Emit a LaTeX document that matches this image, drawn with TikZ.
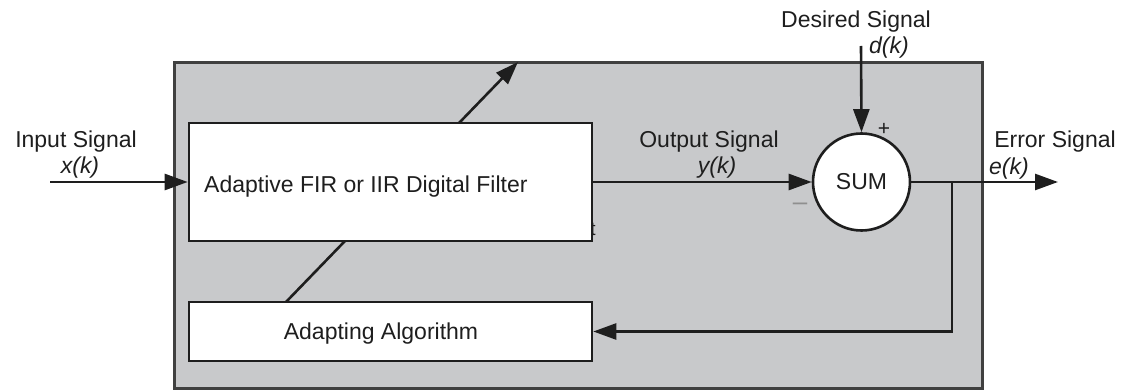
\documentclass[tikz,border=0pt]{standalone}
\usepackage{fontspec}
\setmainfont{Liberation Sans}
\usetikzlibrary{arrows.meta}
\definecolor{panel}{RGB}{200,201,203}
\definecolor{ink}{RGB}{30,30,30}
\tikzset{
  lbl/.style={font=\fontsize{23}{26}\selectfont, text=ink, inner sep=0pt, anchor=base},
  ilbl/.style={lbl, font=\fontsize{23}{26}\selectfont\itshape},
  blockbox/.style={draw=ink, line width=2.6pt, fill=white, inner sep=0pt},
  arr/.style={draw=ink, line width=2.6pt, -{Triangle[length=23pt,width=16pt]}},
  wire/.style={draw=ink, line width=2.6pt},
}
\begin{document}
\begin{tikzpicture}[x=1pt,y=-1pt]
\useasboundingbox (0,0) rectangle (1128,390);
% outer panel
\node[draw=ink!85, line width=3pt, fill=panel, minimum width=808pt, minimum height=325pt, inner sep=0pt] (outer) at (578,225.5) {};
% stray glyph partly hidden behind the filter box
\node[font=\fontsize{19}{19}\selectfont, text=ink, inner sep=0pt] (stray) at (593,229) {t};
% diagonal adaptation arrow (passes behind the filter box)
\coordinate (dlow) at (286,302);
\coordinate (dtip) at (518,62);
\draw[arr] (dlow) -- (dtip);
% blocks
\node[blockbox, minimum width=403pt, minimum height=118pt] (filt) at (390.5,182) {};
\node[lbl, anchor=base west] (filttext) at (204,193) {Adaptive FIR or IIR Digital Filter};
\node[blockbox, minimum width=403pt, minimum height=59pt] (adapt) at (390.5,331.5) {};
\node[lbl] (adapttext) at (381,339) {Adapting Algorithm};
\node[circle, draw=ink, line width=2.6pt, fill=white, minimum size=97pt, inner sep=0pt, font=\fontsize{23}{26}\selectfont, text=ink] (sum) at (861.5,182) {SUM};
% signs
\node[font=\fontsize{21}{21}\selectfont, text=ink, inner sep=0pt] (plus) at (884,129) {+};
\node[font=\fontsize{26}{26}\selectfont, text=ink!50, inner sep=0pt] (minus) at (800,207) {\char"2013};
% endpoints
\coordinate (inS) at (50,182);
\coordinate (dS) at (861,46);
\coordinate (eS) at (1058,182);
\coordinate (tap) at (952,182);
% connectors
\draw[arr] (inS) -- (filt.west);
\draw[arr] (filt.east) -- (sum.west);
\draw[arr] (dS) -- (sum.north);
\draw[arr] (sum.east) -- (eS);
\draw[arr] (tap) |- (adapt.east);
% labels
\node[lbl] (inlbl) at (76,148) {Input Signal};
\node[ilbl] (xk) at (80,174) {x(k)};
\node[lbl] (outlbl) at (709,148) {Output Signal};
\node[ilbl] (yk) at (717,174) {y(k)};
\node[lbl] (deslbl) at (856,28) {Desired Signal};
\node[ilbl] (dk) at (889,54) {d(k)};
\node[lbl] (errlbl) at (1055,148) {Error Signal};
\node[ilbl] (ek) at (1009,175) {e(k)};
\end{tikzpicture}
\end{document}
